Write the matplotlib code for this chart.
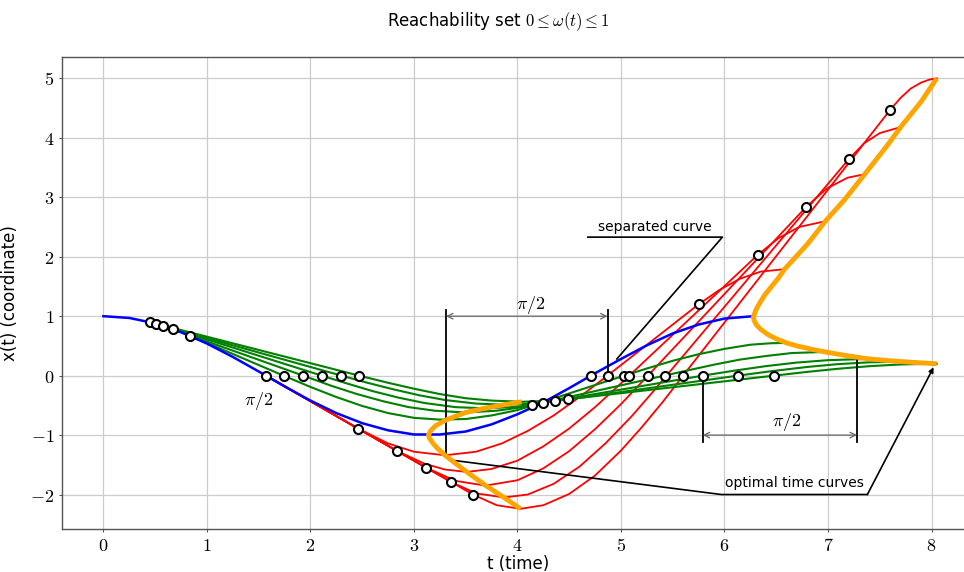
import matplotlib.pyplot as plt

# -----------------------------------------------------------
# data (t = time, x = coordinate)
# -----------------------------------------------------------

# omega = 1 reference trajectory
blue_t = [0.0, 0.25, 0.5, 0.75, 1.0, 1.25, 1.5, 1.75, 2.0, 2.25, 2.5, 2.75, 3.0,
          3.25, 3.5, 3.75, 4.0, 4.25, 4.5, 4.75, 5.0, 5.25, 5.5, 5.75, 6.0, 6.28]
blue_x = [1.0, 0.97, 0.88, 0.73, 0.54, 0.315, 0.07, -0.18, -0.42, -0.63, -0.80, -0.92, -0.99,
          -0.99, -0.94, -0.82, -0.65, -0.45, -0.21, 0.04, 0.28, 0.51, 0.71, 0.86, 0.96, 1.0]

# green family (switch early on the blue curve)
g1_t = [0.84, 1.74, 2.0, 2.25, 2.5, 2.75, 3.0, 3.25, 3.5, 3.75, 4.0, 4.145,
        5.03, 5.25, 5.5, 5.75, 6.0, 6.25, 6.45, 6.6]
g1_x = [0.67, 0.0, -0.19, -0.36, -0.51, -0.63, -0.71, -0.74, -0.73, -0.67, -0.58, -0.50,
        0.0, 0.12, 0.25, 0.36, 0.45, 0.52, 0.545, 0.55]
g2_t = [0.67, 1.93, 2.2, 2.45, 2.7, 2.95, 3.2, 3.5, 3.8, 4.05, 4.25,
        5.42, 5.65, 5.9, 6.15, 6.4, 6.65, 6.99]
g2_x = [0.78, 0.0, -0.17, -0.31, -0.43, -0.53, -0.59, -0.62, -0.59, -0.53, -0.455,
        0.0, 0.09, 0.185, 0.27, 0.33, 0.38, 0.40]
g3_t = [0.58, 2.11, 2.35, 2.6, 2.85, 3.1, 3.4, 3.68, 3.95, 4.2, 4.36,
        5.79, 6.1, 6.4, 6.7, 7.0, 7.36]
g3_x = [0.84, 0.0, -0.13, -0.26, -0.37, -0.46, -0.53, -0.55, -0.53, -0.48, -0.426,
        0.0, 0.085, 0.16, 0.22, 0.26, 0.28]
g4_t = [0.51, 2.30, 2.55, 2.8, 3.05, 3.3, 3.6, 3.87, 4.15, 4.49,
        6.13, 6.45, 6.8, 7.1, 7.4, 7.70]
g4_x = [0.87, 0.0, -0.12, -0.23, -0.33, -0.41, -0.47, -0.49, -0.47, -0.40,
        0.0, 0.074, 0.146, 0.194, 0.224, 0.235]
g5_t = [0.45, 2.47, 2.75, 3.0, 3.25, 3.5, 3.75, 4.04, 4.3, 4.55,
        6.48, 6.8, 7.1, 7.4, 7.7, 8.05]
g5_x = [0.90, 0.0, -0.12, -0.22, -0.31, -0.38, -0.42, -0.44, -0.425, -0.385,
        0.0, 0.063, 0.116, 0.159, 0.188, 0.20]

# red family (leave the blue curve at pi/2 along the tangent)
r1_t = [1.57, 2.46, 2.75, 3.0, 3.3, 3.6, 3.85, 4.1, 4.35, 4.6, 4.87,
        5.75, 5.95, 6.15, 6.35, 6.58]
r1_x = [0.0, -0.89, -1.14, -1.28, -1.34, -1.28, -1.14, -0.93, -0.67, -0.36, 0.0,
        1.20, 1.44, 1.63, 1.75, 1.79]
r2_t = [1.57, 2.84, 3.1, 3.3, 3.51, 3.75, 4.0, 4.25, 4.5, 4.75, 5.0, 5.08,
        6.32, 6.52, 6.72, 6.98]
r2_x = [0.0, -1.27, -1.48, -1.58, -1.62, -1.57, -1.43, -1.19, -0.89, -0.53, -0.13, 0.0,
        2.03, 2.31, 2.50, 2.60]
r3_t = [1.57, 3.12, 3.4, 3.69, 4.0, 4.25, 4.5, 4.75, 5.0, 5.26,
        6.79, 6.99, 7.19, 7.36]
r3_x = [0.0, -1.55, -1.77, -1.85, -1.76, -1.56, -1.27, -0.90, -0.48, 0.0,
        2.84, 3.15, 3.33, 3.39]
r4_t = [1.57, 3.36, 3.6, 3.87, 4.1, 4.35, 4.6, 4.85, 5.1, 5.3, 5.44,
        7.20, 7.35, 7.50, 7.70]
r4_x = [0.0, -1.79, -1.98, -2.05, -2.00, -1.82, -1.53, -1.14, -0.69, -0.29, 0.0,
        3.64, 3.91, 4.08, 4.18]
r5_t = [1.57, 3.57, 3.8, 4.03, 4.25, 4.5, 4.75, 5.0, 5.2, 5.4, 5.6,
        7.60, 7.70, 7.80, 7.90, 7.98, 8.05]
r5_x = [0.0, -2.0, -2.18, -2.24, -2.18, -1.99, -1.68, -1.26, -0.87, -0.45, 0.0,
        4.47, 4.67, 4.83, 4.93, 4.98, 5.0]

# optimal time curves (orange)
opt_left_t = [4.04, 3.87, 3.68, 3.50, 3.31, 3.21, 3.16, 3.14, 3.15, 3.18, 3.22,
              3.30, 3.51, 3.69, 3.87, 4.03]
opt_left_x = [-0.44, -0.49, -0.55, -0.62, -0.745, -0.84, -0.93, -1.0, -1.05, -1.13, -1.21,
              -1.34, -1.62, -1.845, -2.05, -2.24]
opt_right_t = [8.05, 7.90, 7.71, 7.58, 7.36, 7.16, 6.98, 6.80, 6.58, 6.52, 6.45, 6.39,
               6.35, 6.32, 6.30, 6.29, 6.28, 6.285, 6.31, 6.35, 6.42, 6.50, 6.60, 6.70,
               6.85, 7.0, 7.2, 7.4, 7.6, 7.8, 8.05]
opt_right_x = [5.0, 4.61, 4.20, 3.89, 3.40, 2.96, 2.61, 2.21, 1.79, 1.64, 1.49, 1.36,
               1.25, 1.16, 1.09, 1.04, 1.0, 0.93, 0.85, 0.78, 0.69, 0.62, 0.55, 0.50,
               0.44, 0.39, 0.33, 0.28, 0.25, 0.225, 0.20]

# switching points
dot_t = [0.45, 0.51, 0.58, 0.67, 0.84,
         1.57, 1.74, 1.93, 2.11, 2.30, 2.47,
         2.46, 2.84, 3.12, 3.36, 3.57,
         4.145, 4.25, 4.36, 4.49,
         4.71, 4.87, 5.03, 5.08, 5.26, 5.43, 5.60, 5.79, 6.13, 6.48,
         5.75, 6.32, 6.79, 7.20, 7.60]
dot_x = [0.90, 0.87, 0.84, 0.78, 0.67,
         0.0, 0.0, 0.0, 0.0, 0.0, 0.0,
         -0.89, -1.27, -1.55, -1.79, -2.0,
         -0.50, -0.455, -0.426, -0.40,
         0.0, 0.0, 0.0, 0.0, 0.0, 0.0, 0.0, 0.0, 0.0, 0.0,
         1.20, 2.03, 2.84, 3.64, 4.47]

x_ticks = [0, 1, 2, 3, 4, 5, 6, 7, 8]
y_ticks = [-2, -1, 0, 1, 2, 3, 4, 5]


def main():
    plt.rcParams['mathtext.fontset'] = 'cm'
    plt.rcParams['font.family'] = ['DejaVu Sans']

    fig = plt.figure(figsize=(9.64, 5.72), dpi=100)
    # the right edge of the axes is cut off, as in the reference
    ax = fig.add_axes([62 / 964, 43 / 572, 913 / 964, 472 / 572])

    # -----------------------------------------------------------
    # trajectories
    # -----------------------------------------------------------
    for tt, xx in [(r1_t, r1_x), (r2_t, r2_x), (r3_t, r3_x), (r4_t, r4_x), (r5_t, r5_x)]:
        ax.plot(tt, xx, color='red', lw=1.3, zorder=2)
    for tt, xx in [(g1_t, g1_x), (g2_t, g2_x), (g3_t, g3_x), (g4_t, g4_x), (g5_t, g5_x)]:
        ax.plot(tt, xx, color='green', lw=1.5, zorder=2.2)
    ax.plot(blue_t, blue_x, color='blue', lw=1.8, zorder=2.4)

    # brackets and annotation lines
    ax.plot([3.31, 3.31], [1.11, -1.33], color='black', lw=1.3, zorder=2.6)
    ax.plot([4.87, 4.87], [1.11, 0.0], color='black', lw=1.3, zorder=2.6)
    ax.annotate('', xy=(3.31, 1.0), xytext=(4.87, 1.0),
                arrowprops=dict(arrowstyle='<->', color='#666666', lw=0.9,
                                shrinkA=0, shrinkB=0))
    ax.text(4.13, 1.18, r'$\pi/2$', ha='center', va='center', fontsize=13)

    ax.plot([5.79, 5.79], [0.0, -1.11], color='black', lw=1.3, zorder=2.6)
    ax.plot([7.28, 7.28], [0.28, -1.11], color='black', lw=1.3, zorder=2.6)
    ax.annotate('', xy=(5.79, -1.0), xytext=(7.28, -1.0),
                arrowprops=dict(arrowstyle='<->', color='#666666', lw=0.9,
                                shrinkA=0, shrinkB=0))
    ax.text(6.6, -0.78, r'$\pi/2$', ha='center', va='center', fontsize=13)

    ax.text(1.50, -0.42, r'$\pi/2$', ha='center', va='center', fontsize=13)

    ax.plot([4.68, 5.98, 4.96], [2.33, 2.33, 0.28], color='black', lw=1.2, zorder=2.6)
    ax.text(5.33, 2.50, 'separated curve', ha='center', va='center', fontsize=10)

    ax.plot([3.40, 5.97, 7.38], [-1.43, -2.0, -2.0], color='black', lw=1.2, zorder=2.6)
    ax.annotate('', xy=(8.02, 0.14), xytext=(7.38, -2.0),
                arrowprops=dict(arrowstyle='-|>', color='black', lw=1.2,
                                mutation_scale=7, shrinkA=0, shrinkB=0))
    ax.text(6.68, -1.81, 'optimal time curves', ha='center', va='center', fontsize=10)

    ax.plot(opt_left_t, opt_left_x, color='orange', lw=3.5, zorder=3,
            solid_capstyle='butt')
    ax.plot(opt_right_t, opt_right_x, color='orange', lw=3.5, zorder=3,
            solid_capstyle='butt')

    ax.plot(dot_t, dot_x, linestyle='none', marker='o', ms=6.5, mfc='white',
            mec='black', mew=1.5, zorder=4)

    # -----------------------------------------------------------
    # axes
    # -----------------------------------------------------------
    ax.set_xlim(-0.40, 8.42)
    ax.set_ylim(-2.58, 5.36)
    ax.set_xticks(x_ticks)
    ax.set_xticklabels([f'${v}$' for v in x_ticks])
    ax.set_yticks(y_ticks)
    ax.set_yticklabels([f'${v}$' for v in y_ticks])
    ax.tick_params(length=2, width=0.8, color='#555555', labelsize=13, pad=3.5)
    ax.grid(True, color='#cccccc', lw=0.9)
    ax.set_axisbelow(True)
    for sp in ax.spines.values():
        sp.set_color('#555555')
        sp.set_linewidth(1.0)

    ax.set_xlabel('t (time)', fontsize=12, labelpad=0)
    ax.set_ylabel('x(t) (coordinate)', fontsize=12, labelpad=8)
    fig.suptitle(r'Reachability set $0 \leq \omega(t) \leq 1$', x=498 / 964,
                 y=1 - 22 / 572, va='center', fontsize=12)

    fig.savefig('out.png', dpi=100)


if __name__ == '__main__':
    main()
